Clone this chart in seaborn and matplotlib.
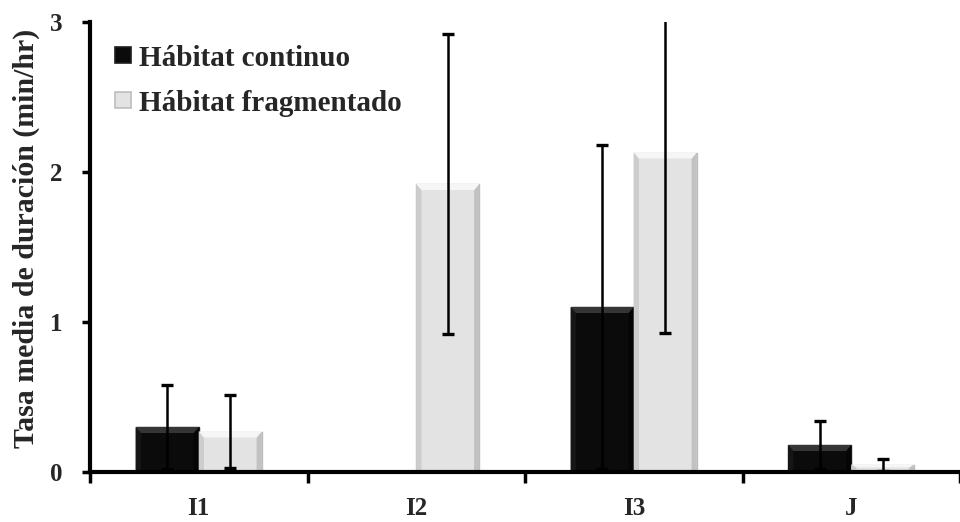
import matplotlib
matplotlib.use("Agg")
import matplotlib.pyplot as plt
from matplotlib.lines import Line2D
from matplotlib.patches import Polygon
import seaborn as sns
import pandas as pd
import numpy as np

categories = ["I1", "I2", "I3", "J"]
series_names = ["Hábitat continuo", "Hábitat fragmentado"]
continuo = [0.30, 0.0, 1.10, 0.18]
fragmentado = [0.27, 1.92, 2.13, 0.05]
continuo_err = [0.28, 0.0, 1.08, 0.16]
fragmentado_err = [0.245, 1.00, 1.20, 0.04]
y_ticks = [0, 1, 2, 3]

colors = {"Hábitat continuo": "#0b0b0b", "Hábitat fragmentado": "#e3e3e3"}
edges = {"Hábitat continuo": "#1e1e1e", "Hábitat fragmentado": "#bdbdbd"}
bevel = {
    "Hábitat continuo": {"top": "#353535", "left": "#161616", "right": "#050505"},
    "Hábitat fragmentado": {"top": "#f6f6f6", "left": "#cdcdcd", "right": "#c2c2c2"},
}

df = pd.DataFrame({
    "cat": categories * 2,
    "serie": [series_names[0]] * 4 + [series_names[1]] * 4,
    "valor": continuo + fragmentado,
    "err": continuo_err + fragmentado_err,
})

sns.set_theme(style="white")
plt.rcParams["font.family"] = ["Liberation Serif", "DejaVu Serif"]
plt.rcParams["font.weight"] = "bold"

fig = plt.figure(figsize=(9.6, 5.22), dpi=100)
ax = fig.add_axes([90 / 960, 50 / 522, 870 / 960, 450 / 522])

sns.barplot(data=df, x="cat", y="valor", hue="serie", order=categories,
            hue_order=series_names, palette=colors, width=0.58,
            errorbar=None, legend=False, ax=ax, saturation=1)


def add_bevel(patch, shades):
    """Draw an embossed rim inside a bar."""
    x0, y0 = patch.get_x(), patch.get_y()
    w, h = patch.get_width(), patch.get_height()
    if h <= 0:
        return
    x1, y1 = x0 + w, y0 + h
    bx = 0.024
    by = min(0.04, h / 2.5)
    top = [(x0, y1), (x1, y1), (x1 - bx, y1 - by), (x0 + bx, y1 - by)]
    left = [(x0, y0), (x0, y1), (x0 + bx, y1 - by), (x0 + bx, y0)]
    right = [(x1, y0), (x1, y1), (x1 - bx, y1 - by), (x1 - bx, y0)]
    for pts, key in ((left, "left"), (right, "right"), (top, "top")):
        ax.add_patch(Polygon(pts, closed=True, facecolor=shades[key],
                             edgecolor="none", zorder=patch.get_zorder() + 0.1))


# style bars and attach error bars at each bar centre
for cont, name in zip(ax.containers, series_names):
    sub = df[df["serie"] == name].set_index("cat").loc[categories]
    xs, ys = [], []
    for patch in cont.patches:
        patch.set_edgecolor(edges[name])
        patch.set_linewidth(1.0)
        add_bevel(patch, bevel[name])
        xs.append(patch.get_x() + patch.get_width() / 2)
        ys.append(patch.get_height())
    errs = sub["err"].values
    mask = np.array(ys) > 0
    ax.errorbar(np.array(xs)[mask], np.array(ys)[mask], yerr=errs[mask],
                fmt="none", ecolor="black", elinewidth=1.8, capsize=4.5,
                capthick=2.4, zorder=5)

ax.set_xlim(-0.5, 3.5)
ax.set_ylim(0, 3)
ax.set_yticks(y_ticks)
ax.set_yticklabels([str(t) for t in y_ticks], fontsize=18, fontweight="bold")

# category labels between boundary ticks
ax.set_xticks([-0.5, 0.5, 1.5, 2.5, 3.5])
ax.set_xticklabels([])
ax.set_xticks(range(len(categories)), minor=True)
ax.set_xticklabels(categories, minor=True, fontsize=18, fontweight="bold")
ax.tick_params(axis="x", which="minor", length=0, pad=18)
ax.tick_params(axis="x", which="major", direction="out", length=8, width=2.5,
               color="black", bottom=True)
ax.tick_params(axis="y", direction="out", length=6, width=2.5, color="black",
               left=True, pad=14)

ax.set_xlabel("")
ax.set_ylabel("Tasa media de duración (min/hr)", fontsize=21.5,
              fontweight="bold")
ax.yaxis.set_label_coords(-0.058, 0.52)

for side in ["top", "right"]:
    ax.spines[side].set_visible(False)
for side in ["left", "bottom"]:
    ax.spines[side].set_color("black")
    ax.spines[side].set_linewidth(3)

handles = [Line2D([0], [0], marker="s", linestyle="none", markersize=12,
                  markerfacecolor=colors[n], markeredgecolor=edges[n],
                  markeredgewidth=1.2) for n in series_names]
leg = ax.legend(handles, series_names, loc="upper left",
                bbox_to_anchor=(94 / 960, 1 - 30 / 522),
                bbox_transform=fig.transFigure, frameon=False,
                prop={"size": 21, "weight": "bold"}, handletextpad=0.05,
                labelspacing=0.62, handlelength=1.0, borderpad=0)

fig.savefig("out.png", dpi=100)
